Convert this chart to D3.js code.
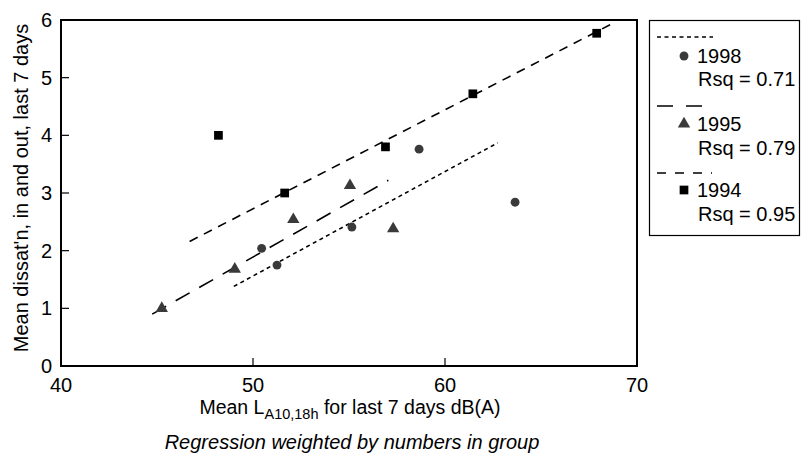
<!DOCTYPE html>
<html><head><meta charset="utf-8">
<script src="https://cdn.jsdelivr.net/npm/d3@7"></script>
<style>
body{margin:0;background:#fff;}
text{font-family:"Liberation Sans",Arial,sans-serif;}
</style></head>
<body>
<svg id="chart" width="801" height="455"></svg>
<script>
// Data
const xTicks = [40, 50, 60, 70];
const yTicks = [0, 1, 2, 3, 4, 5, 6];
const series1998 = [[50.45,2.04],[51.25,1.75],[55.15,2.41],[58.65,3.76],[63.65,2.84]];
const series1995 = [[45.25,1.0],[49.05,1.68],[52.1,2.54],[55.05,3.13],[57.3,2.38]];
const series1994 = [[48.2,4.0],[51.65,3.0],[56.9,3.8],[61.45,4.72],[67.9,5.77]];
const fit1998 = [[49.0,1.38],[62.75,3.87]];
const fit1995 = [[44.75,0.90],[57.05,3.22]];
const fit1994 = [[46.7,2.16],[68.9,5.97]];
const legendYears = ["1998","1995","1994"];
const legendRsq = ["Rsq = 0.71","Rsq = 0.79","Rsq = 0.95"];

const svg = d3.select("#chart");
const L=61, R=637, T=20, B=366;
const x = d3.scaleLinear().domain([40,70]).range([L,R]);
const y = d3.scaleLinear().domain([0,6]).range([B,T]);

// frame
svg.append("rect").attr("x",L).attr("y",T).attr("width",R-L).attr("height",B-T)
  .attr("fill","none").attr("stroke","#000").attr("stroke-width",2);

// ticks (inward)
svg.append("g").selectAll("line").data(xTicks.filter(d=>d>40&&d<70)).join("line")
  .attr("x1",d=>x(d)).attr("x2",d=>x(d)).attr("y1",B).attr("y2",B-8)
  .attr("stroke","#000").attr("stroke-width",1.2);
svg.append("g").selectAll("line").data(yTicks.filter(d=>d>0&&d<6)).join("line")
  .attr("x1",L).attr("x2",L+8).attr("y1",d=>y(d)).attr("y2",d=>y(d))
  .attr("stroke","#000").attr("stroke-width",1.2);

// tick labels
svg.append("g").selectAll("text").data(xTicks).join("text")
  .attr("x",d=>x(d)).attr("y",392).attr("text-anchor","middle")
  .attr("font-size",20).text(d=>d);
svg.append("g").selectAll("text").data(yTicks).join("text")
  .attr("x",52).attr("y",d=>y(d)+7).attr("text-anchor","end")
  .attr("font-size",20).text(d=>d);

// regression lines
const line = d3.line().x(d=>x(d[0])).y(d=>y(d[1]));
const styles = {
  d1998:"4,3.5",
  d1995:"16,11",
  d1994:"9,7"
};
svg.append("path").attr("d",line(fit1998)).attr("stroke","#000").attr("stroke-width",1.6).attr("fill","none").attr("stroke-dasharray",styles.d1998);
svg.append("path").attr("d",line(fit1995)).attr("stroke","#000").attr("stroke-width",1.6).attr("fill","none").attr("stroke-dasharray",styles.d1995);
svg.append("path").attr("d",line(fit1994)).attr("stroke","#000").attr("stroke-width",1.6).attr("fill","none").attr("stroke-dasharray",styles.d1994);

// markers
const circ = d3.symbol().type(d3.symbolCircle).size(62);
const tri = d3.symbol().type(d3.symbolTriangle).size(66);
const sq = d3.symbol().type(d3.symbolSquare).size(76);
svg.append("g").selectAll("path").data(series1998).join("path")
  .attr("transform",d=>`translate(${x(d[0])},${y(d[1])})`).attr("d",circ).attr("fill","#3a3a3a");
svg.append("g").selectAll("path").data(series1995).join("path")
  .attr("transform",d=>`translate(${x(d[0])},${y(d[1])})`).attr("d",tri).attr("fill","#3a3a3a");
svg.append("g").selectAll("path").data(series1994).join("path")
  .attr("transform",d=>`translate(${x(d[0])},${y(d[1])})`).attr("d",sq).attr("fill","#000");

// axis titles
const xt = svg.append("text").attr("x",350).attr("y",414).attr("text-anchor","middle").attr("font-size",19.5);
xt.append("tspan").text("Mean L");
xt.append("tspan").attr("font-size",14.5).attr("dy",5).text("A10,18h");
xt.append("tspan").attr("dy",-5).text(" for last 7 days dB(A)");

svg.append("text").attr("transform","translate(28,188) rotate(-90)")
  .attr("text-anchor","middle").attr("font-size",20).text("Mean dissat'n, in and out, last 7 days");

svg.append("text").attr("x",352).attr("y",449).attr("text-anchor","middle")
  .attr("font-size",20).attr("font-style","italic").text("Regression weighted by numbers in group");

// legend
const lg = svg.append("g");
lg.append("rect").attr("x",649.5).attr("y",20.5).attr("width",150).attr("height",215)
  .attr("fill","#fff").attr("stroke","#000").attr("stroke-width",1.2);
const legDash = [styles.d1998, "16,13", "9,9"];
const legX2 = [713, 706, 712];
const legSym = [circ, tri, sq];
const legFill = ["#3a3a3a","#3a3a3a","#000"];
const legY = [37, 106, 173];
const yrBase = [63, 131, 197];
const rsqBase = [86, 155, 221];
legendYears.forEach((yr,i)=>{
  const y0 = legY[i];
  lg.append("line").attr("x1",657).attr("x2",legX2[i]).attr("y1",y0).attr("y2",y0)
    .attr("stroke","#000").attr("stroke-width",1.4).attr("stroke-dasharray",legDash[i]);
  lg.append("path").attr("transform",`translate(${684},${yrBase[i]-7})`).attr("d",legSym[i]).attr("fill",legFill[i]);
  lg.append("text").attr("x",697).attr("y",yrBase[i]).attr("font-size",20).text(yr);
  lg.append("text").attr("x",698).attr("y",rsqBase[i]).attr("font-size",20).text(legendRsq[i]);
});
</script>
</body></html>
